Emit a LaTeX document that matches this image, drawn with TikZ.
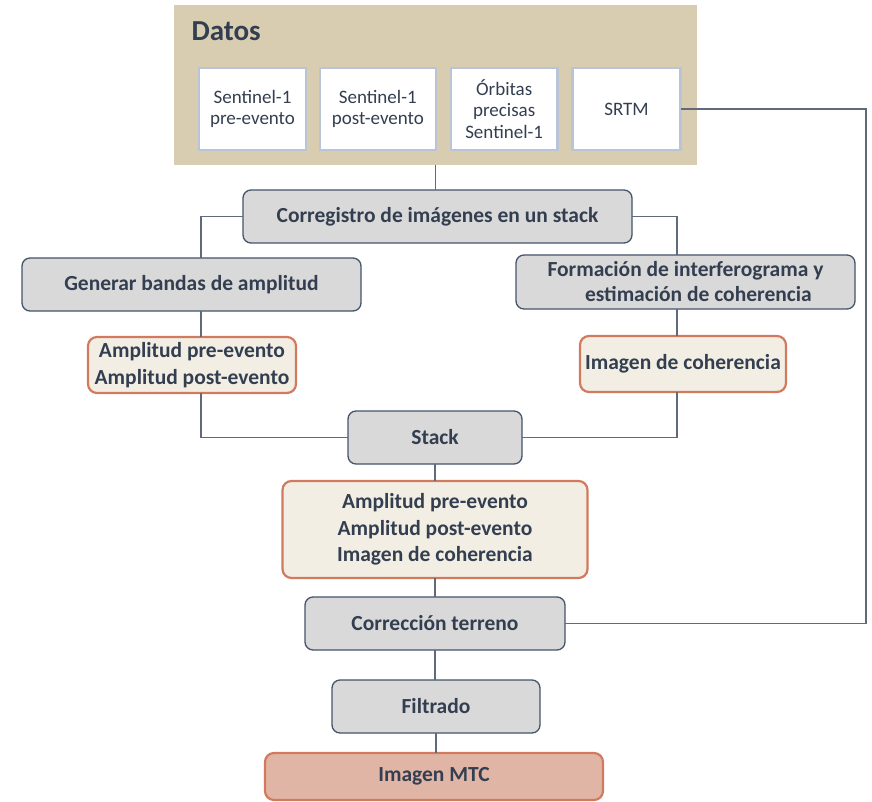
\documentclass[tikz,border=0pt]{standalone}
\usepackage{fontspec}
\setmainfont{Carlito}
\usetikzlibrary{positioning}

\definecolor{datosfill}{HTML}{D9CDB1}
\definecolor{databorder}{HTML}{B9C5D6}
\definecolor{grayfill}{HTML}{D9D9D9}
\definecolor{slate}{HTML}{44546A}
\definecolor{inktext}{HTML}{333F50}
\definecolor{creamfill}{HTML}{F2EEE4}
\definecolor{orangeline}{HTML}{D27A5E}
\definecolor{mtcfill}{HTML}{E1B5A6}
\definecolor{linkgray}{HTML}{5F6B7A}

\begin{document}
\begin{tikzpicture}[x=1pt, y=1pt, node distance=20pt,
    font=\fontsize{19}{22}\selectfont,
    datosbox/.style = {rectangle, fill=datosfill, minimum width=523pt, minimum height=160pt, outer sep=0pt},
    sourcebox/.style = {rectangle, draw=databorder, line width=2.5pt, fill=white, minimum height=82pt, text width=100pt, align=center, text=inktext, outer sep=0pt, font=\fontsize{19}{21.7}\selectfont},
    process/.style = {rectangle, rounded corners=8pt, draw=slate, line width=1.3pt, fill=grayfill, minimum height=53pt, inner ysep=2pt, outer sep=0pt, align=center, text=inktext, font=\bfseries\fontsize{21.5}{25}\selectfont},
    product/.style = {rectangle, rounded corners=9pt, draw=orangeline, line width=2.2pt, fill=creamfill, inner ysep=2pt, outer sep=0pt, align=center, text=inktext, font=\bfseries\fontsize{21.5}{26.5}\selectfont},
    result/.style = {product, fill=mtcfill, minimum height=47pt},
    link/.style = {draw=linkgray, line width=1.2pt}
]
\useasboundingbox (0,0) rectangle (872,-802);

% Datos
\node (datos) [datosbox] at (435.5,-85) {};
\node (titulo) [anchor=base west, text=inktext, font=\bfseries\fontsize{29}{31}\selectfont] at (188,-41) {Datos};
\node (s1pre) [sourcebox, minimum width=105pt] at (252.5,-109) {Sentinel-1\\pre-evento};
\node (s1post) [sourcebox, minimum width=116pt, right=14pt of s1pre] {Sentinel-1\\post-evento};
\node (orbitas) [sourcebox, minimum width=105pt, right=15pt of s1post] {Órbitas\\precisas\\Sentinel-1};
\node (srtm) [sourcebox, minimum width=108pt, right=15pt of orbitas] {SRTM};

% Processing chain
\node (corr) [process, minimum width=389pt, below=25pt of datos, xshift=2pt] {Corregistro de imágenes en un stack};
\node (gen) [process, minimum width=339pt, below=15pt of corr, xshift=-246pt] {Generar bandas de amplitud};
\node (form) [process, minimum width=339pt, minimum height=54pt, below=12pt of corr, xshift=248pt] {Formación de interferograma y\\\hspace*{1.2em}estimación de coherencia};
\node (amp) [product, minimum width=208pt, minimum height=56pt, below=26pt of gen, xshift=0.5pt] {Amplitud pre-evento\\Amplitud post-evento};
\node (imgcoh) [product, minimum width=206pt, minimum height=56pt, below=27pt of form, xshift=-2.5pt] {Imagen de coherencia};
\node (stack) [process, minimum width=174pt, below=168pt of corr, xshift=-2.5pt] {Stack};
\node (capas) [product, minimum width=305pt, minimum height=97pt, below=17pt of stack] {Amplitud pre-evento\\Amplitud post-evento\\Imagen de coherencia};
\node (terreno) [process, minimum width=260pt, below=19pt of capas] {Corrección terreno};
\node (filtrado) [process, minimum width=208pt, below=30pt of terreno, xshift=1pt] {Filtrado};
\node (mtc) [result, minimum width=338pt, below=20pt of filtrado, xshift=-2pt] {Imagen MTC};

% Columns of the side branches
\coordinate (lcol) at (201,0);
\coordinate (rcol) at (677,0);
\coordinate (dem) at (866,0);

% Edges
\draw [link] (datos.south) -- (datos.south |- corr.north);
\draw [link] (corr.west) -| (lcol |- gen.north);
\draw [link] (corr.east) -| (rcol |- form.north);
\draw [link] (lcol |- gen.south) -- (lcol |- amp.north);
\draw [link] (rcol |- form.south) -- (rcol |- imgcoh.north);
\draw [link] (lcol |- amp.south) |- (stack.west);
\draw [link] (rcol |- imgcoh.south) |- (stack.east);
\draw [link] (stack.south) -- (stack.south |- capas.north);
\draw [link] (capas.south) -- (capas.south |- terreno.north);
\draw [link] (terreno.south) -- (terreno.south |- filtrado.north);
\draw [link] (filtrado.south) -- (filtrado.south |- mtc.north);
\draw [link] (srtm.east) -- (dem |- srtm.east) -- (dem |- terreno.east) -- (terreno.east);

\end{tikzpicture}
\end{document}
